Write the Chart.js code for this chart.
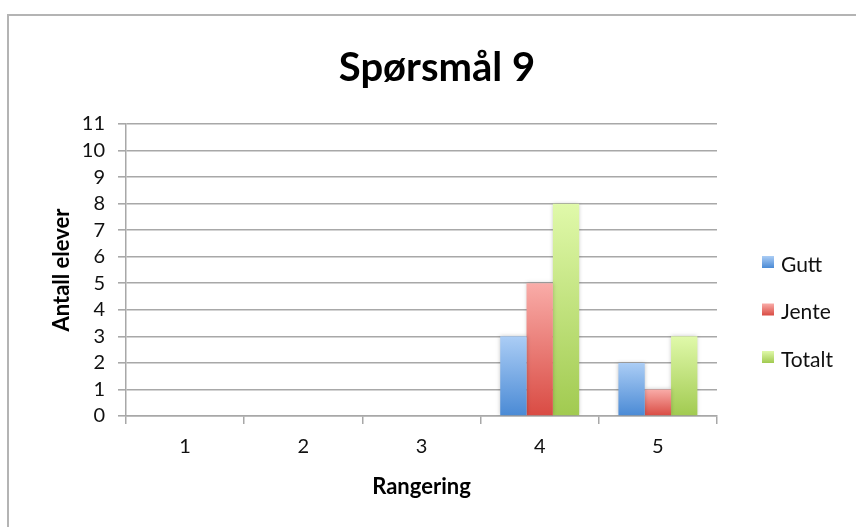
<!DOCTYPE html>
<html>
<head>
<meta charset="utf-8">
<script src="https://cdn.jsdelivr.net/npm/chart.js@4"></script>
<style>
  html, body { margin: 0; padding: 0; background: #fff; }
  #wrap { width: 856px; height: 527px; position: relative; }
</style>
</head>
<body>
<div id="wrap"><canvas id="c" width="856" height="527"></canvas></div>
<script>
// Survey answers: number of pupils per ranking
const categories = ['1', '2', '3', '4', '5'];
const gutt   = [0, 0, 0, 3, 2];
const jente  = [0, 0, 0, 5, 1];
const totalt = [0, 0, 0, 8, 3];
const seriesNames = ['Gutt', 'Jente', 'Totalt'];
const yMax = 11;

const FONT = 'Lato, "Noto Sans", sans-serif';
const TEXT = '#111';
const LINE = '#a8a8a8';

// light top -> darker base gradient stops for each series
const shades = [
  ['#abcdf5', '#4a8ad5'],
  ['#f9aca8', '#d94b43'],
  ['#e0f9aa', '#a1ca50']
];

function barFill(i) {
  return (c) => {
    const [top, bottom] = shades[i];
    if (c.type !== 'data' || !c.chart.scales.y) return top;
    const y = c.chart.scales.y;
    const yTop = y.getPixelForValue(c.raw);
    const yBase = y.getPixelForValue(0);
    if (!isFinite(yTop) || yBase - yTop < 1) return bottom;
    const g = c.chart.ctx.createLinearGradient(0, yTop, 0, yBase);
    g.addColorStop(0, top);
    g.addColorStop(1, bottom);
    return g;
  };
}

// outer frame of the chart sheet
const framePlugin = {
  id: 'frame',
  beforeDraw(chart) {
    const ctx = chart.ctx;
    ctx.save();
    ctx.strokeStyle = '#b4b4b4';
    ctx.lineWidth = 2;
    ctx.beginPath();
    ctx.moveTo(8, chart.height + 2);
    ctx.lineTo(8, 15);
    ctx.lineTo(chart.width + 2, 15);
    ctx.stroke();
    ctx.restore();
  }
};

// soft drop shadow under the bars
const shadowPlugin = {
  id: 'barShadow',
  beforeDatasetsDraw(chart) {
    const ctx = chart.ctx;
    ctx.save();
    ctx.shadowColor = 'rgba(0,0,0,0.22)';
    ctx.shadowBlur = 4;
  },
  afterDatasetsDraw(chart) {
    chart.ctx.restore();
  }
};

// legend drawn to the right of the plot
const sideLegend = {
  id: 'sideLegend',
  afterDraw(chart) {
    const ctx = chart.ctx;
    const area = chart.chartArea;
    const boxX = area.right + 45;
    const firstY = 262;
    const step = 47.5;
    const size = 12;
    ctx.save();
    ctx.font = '21px ' + FONT;
    ctx.textBaseline = 'middle';
    chart.data.datasets.forEach((ds, i) => {
      const cy = firstY + i * step;
      const g = ctx.createLinearGradient(0, cy - size / 2, 0, cy + size / 2);
      g.addColorStop(0, shades[i][0]);
      g.addColorStop(1, shades[i][1]);
      ctx.fillStyle = g;
      ctx.fillRect(boxX, cy - size / 2, size, size);
      ctx.fillStyle = TEXT;
      ctx.fillText(ds.label, boxX + 19, cy + 3);
    });
    ctx.restore();
  }
};

const seriesValues = [gutt, jente, totalt];

new Chart(document.getElementById('c'), {
  type: 'bar',
  data: {
    labels: categories,
    datasets: seriesValues.map((vals, i) => ({
      label: seriesNames[i],
      data: vals,
      backgroundColor: barFill(i),
      borderWidth: 0,
      categoryPercentage: 0.668,
      barPercentage: 1.0
    }))
  },
  options: {
    responsive: false,
    animation: false,
    events: [],
    layout: { padding: { left: 18, right: 0, top: 0, bottom: 26.8 } },
    plugins: {
      legend: { display: false },
      tooltip: { enabled: false },
      title: {
        display: true,
        text: 'Spørsmål 9',
        color: '#000',
        font: { family: FONT, size: 40, weight: 'bold' },
        padding: { top: 44, bottom: 32 }
      }
    },
    scales: {
      x: {
        grid: {
          display: true, drawOnChartArea: false, drawTicks: true,
          tickLength: 8, offset: true, color: LINE, lineWidth: 1.5
        },
        border: { color: LINE, width: 1.5 },
        ticks: { color: TEXT, font: { family: FONT, size: 20 }, padding: 11 },
        title: {
          display: true, text: 'Rangering', color: '#000',
          font: { family: FONT, size: 22, weight: 'bold' },
          padding: { top: 3.8, bottom: 0 }
        }
      },
      y: {
        min: 0, max: yMax,
        ticks: { stepSize: 1, autoSkip: false, color: TEXT, font: { family: FONT, size: 20 }, padding: 13 },
        grid: { color: LINE, lineWidth: 1.6, tickLength: 8, drawTicks: true },
        border: { color: LINE, width: 1.5 },
        title: {
          display: true, text: 'Antall elever', color: '#000',
          font: { family: FONT, size: 22, weight: 'bold' },
          padding: { top: 30.8, bottom: 0 }
        },
        afterFit(s) { s.width = 108; }
      },
      gap: {
        type: 'linear', position: 'right', display: true,
        grid: { display: false }, ticks: { display: false }, border: { display: false },
        afterFit(s) { s.width = 139; }
      }
    }
  },
  plugins: [framePlugin, shadowPlugin, sideLegend]
});
</script>
</body>
</html>
